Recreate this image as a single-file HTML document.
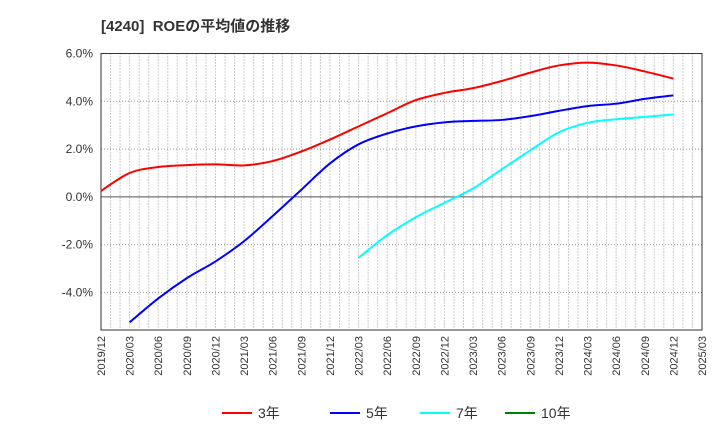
<!DOCTYPE html>
<html><head><meta charset="utf-8"><style>
body{margin:0;background:#fff;font-family:"Liberation Sans","Noto Sans CJK JP",sans-serif}
svg text{font-family:"Liberation Sans","Noto Sans CJK JP",sans-serif}
</style></head><body>
<svg id="chart" width="720" height="440">
<text x="101" y="31" font-size="15" font-weight="bold" fill="#333">[4240]&#160; ROEの平均値の推移</text>
<g id="grid"></g><g id="axes"></g><g id="series"></g><g id="legend"></g>
</svg>
<script>
const xLabels=["2019/12","2020/03","2020/06","2020/09","2020/12","2021/03","2021/06","2021/09","2021/12","2022/03","2022/06","2022/09","2022/12","2023/03","2023/06","2023/09","2023/12","2024/03","2024/06","2024/09","2024/12","2025/03"];
const yTicks=[6,4,2,0,-2,-4];
const s3=[0.25,1.0,1.25,1.33,1.36,1.32,1.5,1.9,2.4,2.95,3.5,4.05,4.35,4.55,4.85,5.2,5.5,5.62,5.5,5.25,4.95];
const s5=[null,-5.25,-4.25,-3.4,-2.7,-1.85,-0.8,0.3,1.4,2.2,2.65,2.95,3.12,3.18,3.22,3.38,3.6,3.8,3.9,4.1,4.25];
const s7=[null,null,null,null,null,null,null,null,null,-2.55,-1.6,-0.85,-0.25,0.35,1.15,1.95,2.7,3.1,3.25,3.35,3.45];
const s10=[];
const L=101,R=702,T=53.5,B=330,yMax=6,yMin=-5.57;
const X=i=>L+(R-L)*i/(xLabels.length-1);
const Y=v=>T+(yMax-v)/(yMax-yMin)*(B-T);
const NS="http://www.w3.org/2000/svg";
function mk(tag,attrs,parent){const e=document.createElementNS(NS,tag);for(const k in attrs)e.setAttribute(k,attrs[k]);parent.appendChild(e);return e;}
const grid=document.getElementById('grid'),axes=document.getElementById('axes'),ser=document.getElementById('series'),leg=document.getElementById('legend');
const n=(xLabels.length-1)*3;
for(let m=1;m<n;m++){const x=L+(R-L)*m/n;
const g=mk('line',{x1:x,x2:x,y1:T,y2:B,stroke:'#999','stroke-width':1,'stroke-dasharray':'1,2'},grid);

}
yTicks.forEach(v=>{const y=Y(v);
const g=mk('line',{x1:L,x2:R,y1:y,y2:y,stroke:v===0?'#555':'#999','stroke-width':1,'stroke-dasharray':v===0?'':'1,2'},grid);


const t=mk('text',{x:L-8,y:y+4,'text-anchor':'end','font-size':12,fill:'#333'},axes);t.textContent=v.toFixed(1)+'%';

});
const fr=mk('rect',{x:L,y:T,width:R-L,height:B-T,fill:'none',stroke:'#333','stroke-width':1},axes);


xLabels.forEach((l,i)=>{const x=X(i);
const t=mk('text',{x:x+4,y:B+6,'text-anchor':'end','font-size':11,fill:'#333',transform:`rotate(-90 ${x+4} ${B+6})`},axes);t.textContent=l;

});
function path(data){const p=[];data.forEach((v,i)=>{if(v!==null&&v!==undefined)p.push([X(i),Y(v)])});
if(p.length<2)return '';let d=`M${p[0][0]},${p[0][1]}`;
for(let i=0;i<p.length-1;i++){const p0=p[i-1]||p[i],p1=p[i],p2=p[i+1],p3=p[i+2]||p2;
d+=` C${p1[0]+(p2[0]-p0[0])/6},${p1[1]+(p2[1]-p0[1])/6} ${p2[0]-(p3[0]-p1[0])/6},${p2[1]-(p3[1]-p1[1])/6} ${p2[0]},${p2[1]}`;}
return d;}
const series=[[s3,'#ff0000','3年','line-3yr'],[s5,'#0000ff','5年','line-5yr'],[s7,'#00ffff','7年','line-7yr'],[s10,'#008000','10年','line-10yr']];
series.forEach(([d,c,name,dn],k)=>{const pd=path(d);if(pd){const e=mk('path',{d:pd,fill:'none',stroke:c,'stroke-width':2},ser);

}
const lx=[222,330,420,505][k];
const ln=mk('line',{x1:lx,x2:lx+30,y1:413,y2:413,stroke:c,'stroke-width':2},leg);


const t=mk('text',{x:lx+36,y:418,'font-size':14,fill:'#333'},leg);t.textContent=name;

});
</script>
</body></html>
